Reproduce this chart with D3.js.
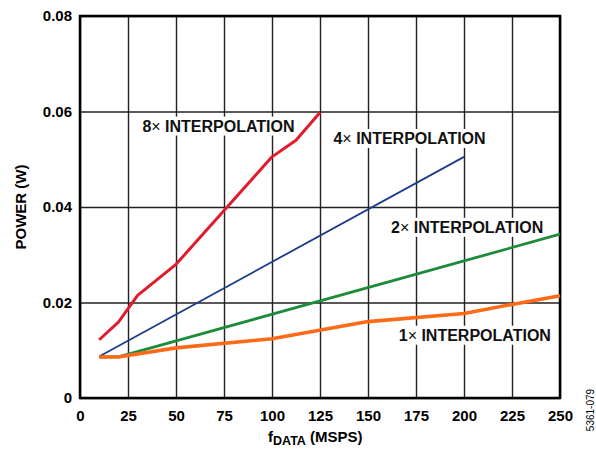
<!DOCTYPE html>
<html>
<head>
<meta charset="utf-8">
<script src="https://cdn.jsdelivr.net/npm/d3@7"></script>
<style>
  body { margin: 0; background: #fff; }
  svg { font-family: "Liberation Sans", Arial, sans-serif; }
</style>
</head>
<body>
<div id="chart"></div>
<script>
// data
const xTicks = [0, 25, 50, 75, 100, 125, 150, 175, 200, 225, 250];
const yTicks = [0, 0.02, 0.04, 0.06, 0.08];
const yTickLabels = ["0", "0.02", "0.04", "0.06", "0.08"];

const fData8x = [10, 20, 30, 50, 100, 112.5, 125];
const power8x = [0.0122, 0.0159, 0.0215, 0.028, 0.0505, 0.054, 0.0598];

const fData4x = [10, 200];
const power4x = [0.0087, 0.0505];

const fData2x = [10, 20, 250];
const power2x = [0.0086, 0.0086, 0.0343];

const fData1x = [10, 20, 50, 100, 150, 200, 225, 250];
const power1x = [0.0086, 0.0086, 0.0105, 0.0124, 0.016, 0.0177, 0.0196, 0.0214];

const seriesNames = ["8×", "4×", "2×", "1×"];
// label anchors, in data units (left edge / baseline)
const labelX = [32.5, 132, 162, 166];
const labelY = [0.0558, 0.0532, 0.0346, 0.012];

const config = {
  parentElement: "#chart",
  containerWidth: 596,
  containerHeight: 450,
  margin: { top: 16, bottom: 52, right: 36, left: 80 },
};

const series = [
  { name: "8x", x: fData8x, y: power8x, color: "#e21b2c", width: 3 },
  { name: "4x", x: fData4x, y: power4x, color: "#1b3c8a", width: 1.8 },
  { name: "2x", x: fData2x, y: power2x, color: "#1d8b3b", width: 2.8 },
  { name: "1x", x: fData1x, y: power1x, color: "#ff6a16", width: 3.6 },
];

let width = config.containerWidth - config.margin.left - config.margin.right;
let height = config.containerHeight - config.margin.top - config.margin.bottom;

let svg = d3
  .select(config.parentElement)
  .append("svg")
  .attr("width", config.containerWidth)
  .attr("height", config.containerHeight);

let g = svg
  .append("g")
  .attr("transform", `translate(${config.margin.left},${config.margin.top})`);

// scales
let x = d3.scaleLinear().domain([0, 250]).range([0, width]);
let y = d3.scaleLinear().domain([0, 0.08]).range([height, 0]);

// vertical grid
g.append("g")
  .attr("class", "grid")
  .call(d3.axisBottom(x).tickValues(xTicks).tickSize(height).tickFormat(""))
  .call((s) => s.select(".domain").remove())
  .selectAll("line")
  .attr("stroke", "#222")
  .attr("stroke-width", 1.4);

// horizontal grid
g.append("g")
  .attr("class", "grid")
  .call(d3.axisLeft(y).tickValues(yTicks).tickSize(-width).tickFormat(""))
  .call((s) => s.select(".domain").remove())
  .selectAll("line")
  .attr("stroke", "#222")
  .attr("stroke-width", 1.4);

// x tick labels
g.append("g")
  .attr("transform", `translate(0,${height})`)
  .call(d3.axisBottom(x).tickValues(xTicks).tickSize(0).tickPadding(12))
  .call((s) => s.select(".domain").remove())
  .selectAll("text")
  .attr("font-family", "Liberation Sans, Arial, sans-serif")
  .attr("font-size", "15px")
  .attr("font-weight", "bold")
  .attr("fill", "#000");

// y tick labels
g.append("g")
  .call(
    d3
      .axisLeft(y)
      .tickValues(yTicks)
      .tickSize(0)
      .tickPadding(8)
      .tickFormat((d, i) => yTickLabels[i])
  )
  .call((s) => s.select(".domain").remove())
  .selectAll("text")
  .attr("font-family", "Liberation Sans, Arial, sans-serif")
  .attr("font-size", "15px")
  .attr("font-weight", "bold")
  .attr("fill", "#000");

// plot border
g.append("rect")
  .attr("x", 0)
  .attr("y", 0)
  .attr("width", width)
  .attr("height", height)
  .attr("fill", "none")
  .attr("stroke", "#000")
  .attr("stroke-width", 2.5);

// series labels with white boxes behind them
seriesNames.forEach((name, i) => {
  let lg = g.append("g");
  let t = lg
    .append("text")
    .attr("x", x(labelX[i]))
    .attr("y", y(labelY[i]))
    .attr("font-size", "16px")
    .attr("font-weight", "bold")
    .attr("fill", "#111");
  t.append("tspan").text(name.slice(0, -1));
  t.append("tspan").attr("font-weight", "normal").text("×");
  t.append("tspan").text(" INTERPOLATION");
  let bb = t.node().getBBox();
  lg.insert("rect", "text")
    .attr("x", bb.x - 3)
    .attr("y", bb.y - 1)
    .attr("width", bb.width + 6)
    .attr("height", bb.height + 2)
    .attr("fill", "#fff");
});

// the lines
let line = d3
  .line()
  .x((d) => x(d[0]))
  .y((d) => y(d[1]));

series.forEach((s) => {
  g.append("path")
    .datum(s.x.map((v, i) => [v, s.y[i]]))
    .attr("d", line)
    .attr("fill", "none")
    .attr("stroke", s.color)
    .attr("stroke-width", s.width)
    .attr("stroke-linejoin", "round");
});

// x axis title
let xt = svg
  .append("text")
  .attr("x", 268)
  .attr("y", 442)
  .attr("font-size", "15px")
  .attr("font-weight", "bold")
  .attr("fill", "#000");
xt.append("tspan").text("f");
xt.append("tspan").attr("font-size", "12.5px").attr("dy", 3).text("DATA");
xt.append("tspan").attr("dy", -3).text(" (MSPS)");

// y axis title
svg
  .append("text")
  .attr("transform", `translate(26,${config.margin.top + height / 2}) rotate(-90)`)
  .attr("text-anchor", "middle")
  .attr("font-size", "15px")
  .attr("font-weight", "bold")
  .attr("fill", "#000")
  .text("POWER (W)");

// figure code
svg
  .append("text")
  .attr("transform", "translate(594,410) rotate(-90)")
  .attr("text-anchor", "middle")
  .attr("font-size", "10px")
  .attr("fill", "#000")
  .text("5361-079");
</script>
</body>
</html>
